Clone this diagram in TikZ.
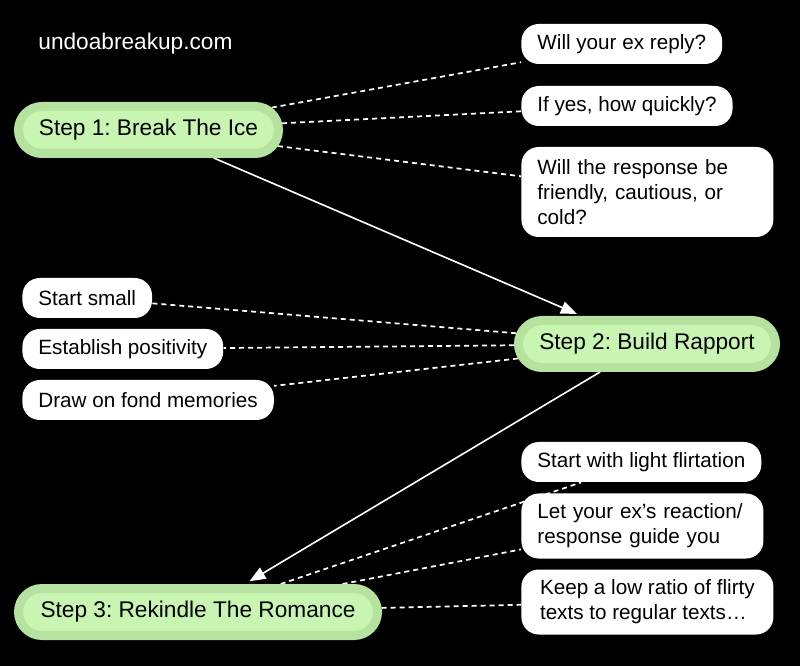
\documentclass[tikz,border=0pt]{standalone}
\usepackage{fontspec}
\setmainfont{Liberation Sans}
\usetikzlibrary{arrows.meta, shapes.misc}
\definecolor{rimgreen}{RGB}{182,226,160}
\definecolor{padgreen}{RGB}{200,245,178}
\pgfdeclarelayer{back}
\pgfsetlayers{back,main}
\frenchspacing

\begin{document}
\begin{tikzpicture}[x=0.75pt,y=-0.75pt,>={Triangle[length=12pt,width=9.5pt]},semithick]
    \tikzstyle{stepnode}=[rounded rectangle, draw=rimgreen, fill=padgreen, line width=6.75pt, outer sep=3.375pt, minimum height=35.25pt, inner xsep=0pt, anchor=west, text=black, font=\fontsize{17}{20}\selectfont]
    \tikzstyle{note}=[rectangle, rounded corners=13pt, fill=white, anchor=west, inner xsep=12pt, inner ysep=0pt, align=left, text=black, minimum height=30pt, font=\fontsize{15.5}{18.75}\selectfont]
    \tikzstyle{hint}=[draw=white, dash pattern=on 3.75pt off 3pt, line width=1.3pt]
    \tikzstyle{flow}=[->, draw=white, line width=1.2pt, shorten >=4pt]

    \useasboundingbox (0,0) rectangle (800,666);
    \node[text=white, anchor=base west, inner sep=0pt, font=\fontsize{17}{20}\selectfont] (site) at (38,50) {undoabreakup.com};

    \node[stepnode, minimum width=195pt]    (S1) at (14,130)  {Step 1: Break The Ice};
    \node[stepnode, minimum width=192.75pt] (S2) at (514,344) {Step 2: Build Rapport};
    \node[stepnode, minimum width=269.25pt] (S3) at (14,612)  {Step 3: Rekindle The Romance};

    \node[note]                        (reply)    at (521,44)  {Will your ex reply?};
    \node[note]                        (quick)    at (521,106) {If yes, how quickly?};
    \node[note, minimum height=67.5pt, text width=165pt] (tone) at (521,192) {Will the response be\\friendly, cautious, or\\cold?};
    \node[note]                        (small)    at (22,298)  {Start small};
    \node[note]                        (positive) at (22,349)  {Establish positivity};
    \node[note]                        (memories) at (22,400)  {Draw on fond memories};
    \node[note]                        (flirt)    at (521,462) {Start with light flirtation};
    \node[note, minimum height=48.75pt, text width=157.5pt] (guide) at (521,526) {Let your ex’s reaction/\\response guide you};
    \node[note, minimum height=48.75pt, minimum width=189pt] (ratio) at (521,602) {Keep a low ratio of flirty\\texts to regular texts…};

    \begin{pgfonlayer}{back}
        \fill[black] (0,0) rectangle (800,666);
        \path
        (S1) edge[hint]     (reply)
        edge[hint]          (quick)
        edge[hint]          (tone)
        edge[flow]          (S2)
        (S2) edge[hint]     (small)
        edge[hint]          (positive)
        edge[hint]          (memories)
        edge[flow]          (S3)
        (S3) edge[hint]     (flirt)
        edge[hint]          (guide)
        edge[hint]          (ratio);
    \end{pgfonlayer}
\end{tikzpicture}
\end{document}
